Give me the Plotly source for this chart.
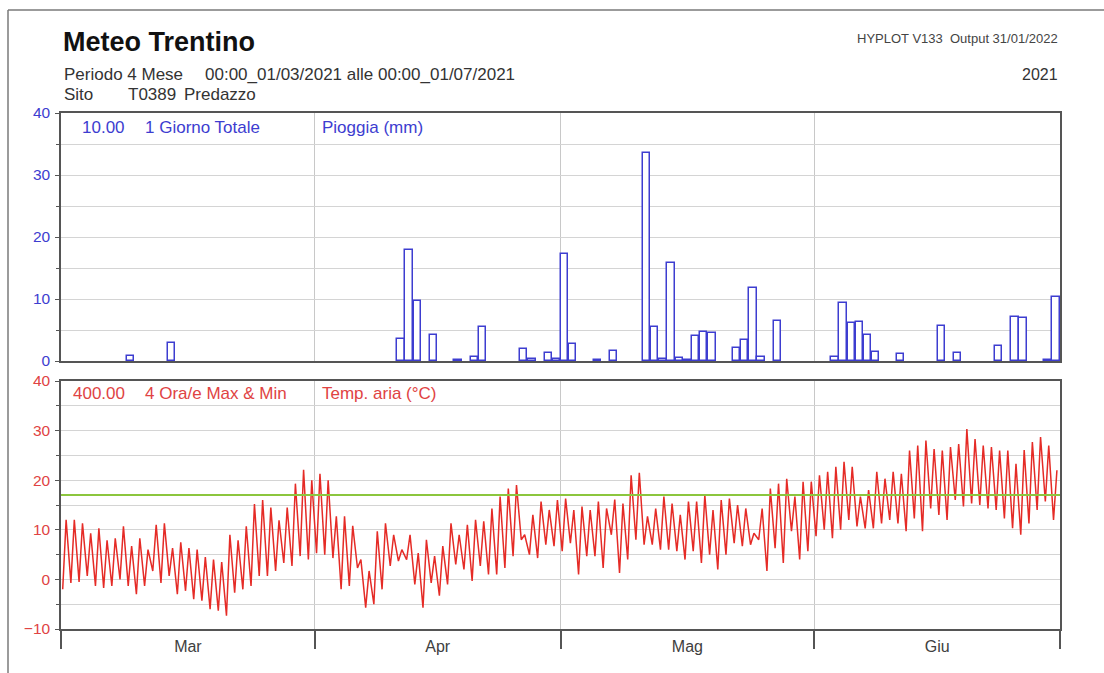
import pandas as pd
import plotly.graph_objects as go

# ---- data -----------------------------------------------------------------
# Daily rainfall totals (mm), Predazzo T0389, spring 2021
rain_dates = [
    "2021-03-09", "2021-03-14",
    "2021-04-11", "2021-04-12", "2021-04-13", "2021-04-15", "2021-04-18",
    "2021-04-20", "2021-04-21", "2021-04-26", "2021-04-27", "2021-04-29",
    "2021-04-30",
    "2021-05-01", "2021-05-02", "2021-05-05", "2021-05-07", "2021-05-11",
    "2021-05-12", "2021-05-13", "2021-05-14", "2021-05-15", "2021-05-16",
    "2021-05-17", "2021-05-18", "2021-05-19", "2021-05-22", "2021-05-23",
    "2021-05-24", "2021-05-25", "2021-05-27",
    "2021-06-03", "2021-06-04", "2021-06-05", "2021-06-06", "2021-06-07",
    "2021-06-08", "2021-06-11", "2021-06-16", "2021-06-18", "2021-06-23",
    "2021-06-25", "2021-06-26", "2021-06-29", "2021-06-30",
]
rain_mm = [
    0.8, 2.9,
    3.5, 17.9, 9.7, 4.2, 0.2,
    0.7, 5.5, 1.9, 0.3, 1.3,
    0.4,
    17.3, 2.7, 0.2, 1.6, 33.5,
    5.5, 0.4, 15.8, 0.5, 0.2,
    4.0, 4.7, 4.5, 2.1, 3.4,
    11.8, 0.7, 6.5,
    0.6, 9.3, 6.1, 6.3, 4.2,
    1.4, 1.1, 5.6, 1.3, 2.4,
    7.1, 6.9, 0.2, 10.3,
]

# Daily air temperature extremes (°C), 1 March - 30 June 2021
temp_max = [
    # March
    12, 12, 11.3, 9.3, 10.3, 7.9, 8.3, 10.7, 6.7, 8.3, 6, 11, 11.3, 6.3, 7.5,
    6.3, 6, 4.5, 4, 3.5, 9, 7.9, 10.7, 15.2, 16, 14.5, 11.9, 14.5, 19.3, 22.1, 20,
    # April
    21.3, 20, 12.7, 12.7, 10.8, 4, 1.7, 9.7, 11.3, 9, 6, 9, 5.3, 8, 4.7,
    6.7, 11.3, 9, 11, 12, 11.7, 14.3, 16.7, 18.3, 19, 9, 13, 15.7, 14, 16,
    # May
    16.3, 14, 14.7, 14, 15.7, 14.3, 16.1, 15.3, 21, 21.5, 12.7, 14.3, 16.7, 15.3, 13,
    15.7, 15.7, 17, 14, 16, 16.3, 15, 14.3, 9.3, 14.3, 18.3, 19.3, 20.3, 16.7, 19.7, 19.7,
    # June
    21, 21.7, 22.7, 23.7, 22.7, 16.7, 18, 21.7, 20.3, 21.7, 21.3, 26, 27, 28, 26.3,
    26, 26.7, 27.3, 30.3, 28.3, 27, 26.7, 26, 26, 23.3, 26.1, 27.7, 28.7, 27, 22,
]
temp_min = [
    # March
    -2, -0.7, -0.5, 0.7, -1.3, -1.7, -1.3, 0, -1.3, -3, -1.3, 1.7, -0.7, 0.7, -3,
    -2.3, -4, -4.3, -6, -6.3, -7.3, -2.7, -2, -1.3, 0.7, 0.7, 1.7, 3.3, 2.7, 4.7, 4,
    # April
    5.3, 5, 4.3, -2, -1.3, 2.3, -5.7, -5, -2, 2.7, 3.7, 4, -1, -5.7, -0.7,
    -3.3, -1, 3, 2, -0.3, 2.7, 1, 1, 2.3, 4.7, 8, 5, 4.3, 7, 6.7,
    # May
    5.7, 7.3, 1, 4.7, 4.7, 2.3, 9, 1.3, 4, 8, 7, 7, 6, 6, 5.7,
    4, 5.7, 3.3, 5, 2, 5, 7.3, 6.7, 7, 8, 1.7, 6.3, 3.3, 9.7, 4, 5.7,
    # June
    8.7, 10, 8.3, 10, 12, 10.7, 10.3, 10.3, 11.3, 12, 11.3, 9.7, 12.3, 9.7, 14.3,
    13, 12, 16, 14.7, 15.3, 15, 14.3, 14, 12.3, 10.3, 9, 11.3, 14, 15.7, 12,
]
temp_threshold = 17

month_starts = ["2021-03-01", "2021-04-01", "2021-05-01", "2021-06-01", "2021-07-01"]
month_mids = ["2021-03-16 12:00", "2021-04-16", "2021-05-16 12:00", "2021-06-16"]
month_names = ["Mar", "Apr", "Mag", "Giu"]

# ---- derived series ---------------------------------------------------------
days = pd.date_range("2021-03-01", periods=len(temp_max), freq="D")
temp_t, temp_v = [], []
for d, lo, hi in zip(days, temp_min, temp_max):
    temp_t += [d + pd.Timedelta(hours=5), d + pd.Timedelta(hours=15)]
    temp_v += [lo, hi]
rain_x = [pd.Timestamp(s) + pd.Timedelta(hours=12) for s in rain_dates]

# ---- styling ----------------------------------------------------------------
W, H = 1104, 673
FONT = "Liberation Sans, Arial, sans-serif"
BLUE = "#3d3dd0"
RED = "#e04343"
LINE_RED = "#e52b26"
GREEN = "#8cc63e"
GRID = "#d4d4d4"
FRAME = "#555555"


def px(x):
    return x / W


def py(y):
    return 1 - y / H


X_DOM = [px(61), px(1060)]
TOP_DOM = [py(361), py(113)]
BOT_DOM = [py(629), py(381)]

fig = go.Figure()

fig.add_trace(go.Bar(
    x=rain_x, y=rain_mm, width=0.9 * 86400000,
    marker=dict(color="white", line=dict(color=BLUE, width=1.5)),
    xaxis="x", yaxis="y", showlegend=False,
))

fig.add_trace(go.Scatter(
    x=temp_t, y=temp_v, mode="lines",
    line=dict(color=LINE_RED, width=1.5),
    xaxis="x2", yaxis="y2", showlegend=False,
))

fig.add_shape(type="line", xref="x2 domain", yref="y2",
              x0=0, x1=1, y0=temp_threshold, y1=temp_threshold,
              line=dict(color=GREEN, width=2), layer="above")

xcommon = dict(
    type="date", range=["2021-03-01", "2021-07-01"], domain=X_DOM,
    showline=True, mirror=True, linecolor=FRAME, linewidth=1.5,
    showgrid=False, zeroline=False, automargin=False,
    tickmode="array", tickvals=month_mids, ticktext=month_names, ticks="",
    minor=dict(tickmode="array", tickvals=month_starts, showgrid=True,
               gridcolor="#c8c8c8", gridwidth=1, ticks=""),
)
ycommon = dict(
    showline=True, mirror=True, linecolor=FRAME, linewidth=1.5,
    showgrid=True, gridcolor=GRID, gridwidth=1, zeroline=False,
    automargin=False, ticks="outside", ticklen=4, tickcolor=FRAME,
    dtick=10, tick0=0, ticklabelstandoff=2,
    minor=dict(dtick=5, showgrid=True, gridcolor=GRID, gridwidth=1,
               ticks="outside", ticklen=3, tickcolor=FRAME),
)

fig.update_layout(
    width=W, height=H,
    margin=dict(l=0, r=0, t=0, b=0),
    paper_bgcolor="white", plot_bgcolor="white",
    font=dict(family=FONT, size=15, color="#333333"),
    bargap=0,
    xaxis=dict(xcommon, anchor="y", showticklabels=False),
    yaxis=dict(ycommon, domain=TOP_DOM, anchor="x", range=[0, 40],
               tickfont=dict(color=BLUE, size=15.5)),
    xaxis2=dict(xcommon, anchor="y2",
                tickfont=dict(color="#404040", size=16), ticklabelstandoff=2,
                minor=dict(tickmode="array", tickvals=month_starts, showgrid=True,
                           gridcolor="#c8c8c8", gridwidth=1, ticks="outside",
                           ticklen=18, tickcolor=FRAME, tickwidth=1.5)),
    yaxis2=dict(ycommon, domain=BOT_DOM, anchor="x2", range=[-10, 40],
                tickfont=dict(color=RED, size=15.5)),
)

# page frame
fig.add_shape(type="line", xref="paper", yref="paper",
              x0=px(8), x1=1, y0=py(10), y1=py(10),
              line=dict(color="#7a7a7a", width=1.5))
fig.add_shape(type="line", xref="paper", yref="paper",
              x0=px(8), x1=px(8), y0=py(10), y1=0,
              line=dict(color="#7a7a7a", width=1.5))


def label(text, x, y, size, color, xanchor="left", bold=False):
    fig.add_annotation(
        text=f"<b>{text}</b>" if bold else text,
        x=px(x), y=py(y), xref="paper", yref="paper",
        xanchor=xanchor, yanchor="middle", showarrow=False,
        font=dict(family=FONT, size=size, color=color),
    )


label("Meteo Trentino", 61, 42, 27, "#111111", bold=True)
label("Periodo 4 Mese", 62, 74, 17, "#333333")
label("00:00_01/03/2021 alle 00:00_01/07/2021", 203, 74, 17, "#333333")
label("Sito", 62, 95, 17, "#333333")
label("T0389", 126, 95, 17, "#333333")
label("Predazzo", 182, 95, 17, "#333333")
label("HYPLOT V133&nbsp;&nbsp;Output 31/01/2022", 1060, 38, 13, "#444444", xanchor="right")
label("2021", 1060, 74, 16, "#333333", xanchor="right")

label("10.00", 127, 127, 17, BLUE, xanchor="right")
label("1 Giorno Totale", 143, 127, 17, BLUE)
label("Pioggia (mm)", 320, 127, 17, BLUE)
label("400.00", 127, 393, 17, RED, xanchor="right")
label("4 Ora/e Max &amp; Min", 143, 393, 17, RED)
label("Temp. aria (°C)", 320, 393, 17, RED)

fig.write_html("out.html")
